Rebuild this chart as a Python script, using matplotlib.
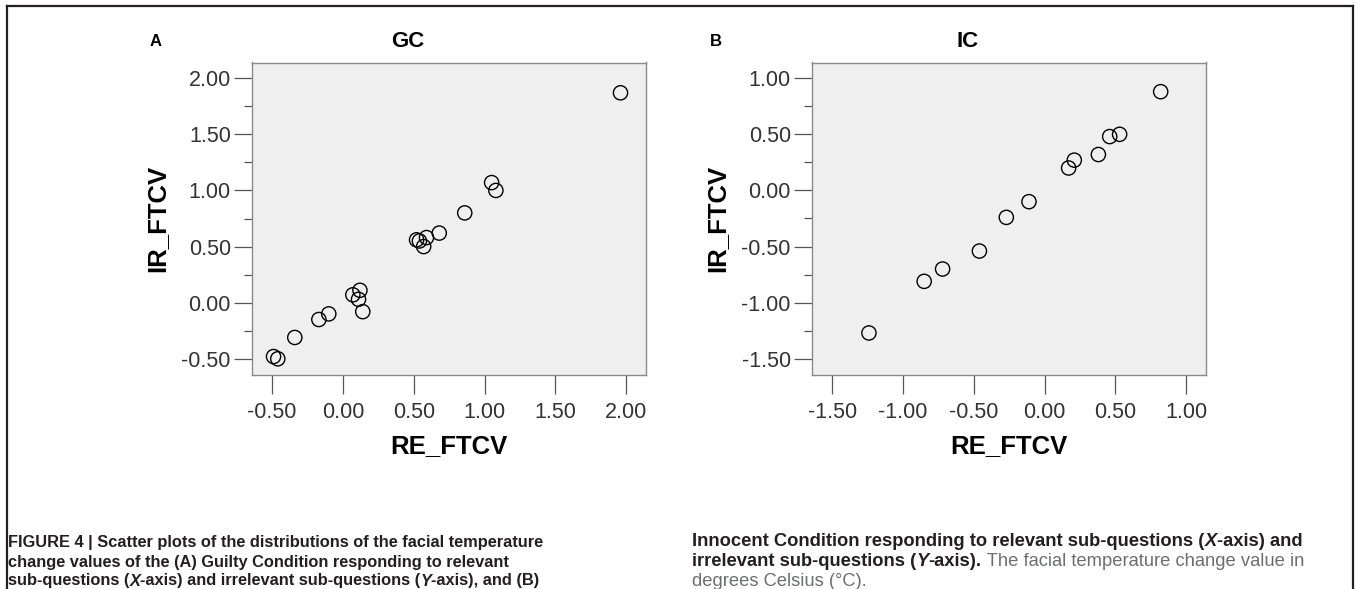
import matplotlib
matplotlib.use("Agg")
import matplotlib.pyplot as plt
from matplotlib import font_manager
from matplotlib.lines import Line2D
from matplotlib.ticker import FuncFormatter, MultipleLocator

plt.rcParams["font.family"] = ["Liberation Sans", "DejaVu Sans"]
plt.rcParams["axes.unicode_minus"] = False

# GC panel: relevant (x) vs irrelevant (y) facial temperature change values
gc_re = [-0.49, -0.46, -0.34, -0.17, -0.10, 0.07, 0.11, 0.12, 0.14,
         0.52, 0.54, 0.57, 0.59, 0.68, 0.86, 1.05, 1.08, 1.96]
gc_ir = [-0.48, -0.50, -0.31, -0.15, -0.10, 0.07, 0.03, 0.11, -0.08,
         0.56, 0.55, 0.50, 0.58, 0.62, 0.80, 1.07, 1.00, 1.87]

# IC panel
ic_re = [-1.24, -0.85, -0.72, -0.46, -0.27, -0.11, 0.17, 0.21, 0.38, 0.46, 0.53, 0.82]
ic_ir = [-1.27, -0.81, -0.70, -0.54, -0.24, -0.10, 0.20, 0.27, 0.32, 0.48, 0.50, 0.88]

gc_ticks = [-0.5, 0.0, 0.5, 1.0, 1.5, 2.0]
ic_ticks = [-1.5, -1.0, -0.5, 0.0, 0.5, 1.0]

W, H = 1356, 589
fig = plt.figure(figsize=(W / 100, H / 100), dpi=100)

DARK = "#231f20"
GREY = "#6d6e71"


def px(x, y):
    # pixel position (from top-left) to figure fraction
    return x / W, 1 - y / H


def panel(left_px, xs, ys, ticks, title, letter):
    ax = fig.add_axes([left_px / W, (H - 374.5) / H, 393.7 / W, 312 / H])
    ax.set_facecolor("#efefef")
    ax.scatter(xs, ys, s=105, facecolors="none", edgecolors="black", linewidths=1.0, zorder=3)
    lo, hi = ticks[0] - 0.14, ticks[-1] + 0.14
    ax.set_xlim(lo, hi)
    ax.set_ylim(lo, hi)
    ax.set_xticks(ticks)
    ax.set_yticks(ticks)
    ax.yaxis.set_minor_locator(MultipleLocator(0.25))
    fmt = FuncFormatter(lambda v, p: f"{v:.2f}")
    ax.xaxis.set_major_formatter(fmt)
    ax.yaxis.set_major_formatter(fmt)
    for s in ax.spines.values():
        s.set_color("#8a8a8a")
        s.set_linewidth(1.0)
    ax.tick_params(axis="x", which="major", direction="out", length=14, width=0.9,
                   color="#555555", labelcolor="#333333", labelsize=15.5, pad=6)
    ax.tick_params(axis="y", which="major", direction="out", length=13, width=0.9,
                   color="#555555", labelcolor="#333333", labelsize=15.5, pad=2.5)
    ax.tick_params(axis="y", which="minor", direction="out", length=6, width=0.9,
                   color="#555555")
    ax.set_xlabel("RE_FTCV", fontsize=18.5, fontweight="bold", va="center")
    ax.xaxis.set_label_coords(0.5, -(446 - 374.5) / 312)
    ax.set_ylabel("IR_FTCV", fontsize=18.5, fontweight="bold", va="center")
    ax.yaxis.set_label_coords(-(252.3 - 157) / 393.7, 0.5)
    ax.text(0.395, 1 + (62.5 - 41.7) / 312, title, transform=ax.transAxes,
            ha="center", va="center", fontsize=16, fontweight="bold")
    fx, fy = px(left_px - 96.5, 41.7)
    fig.text(fx, fy, letter, ha="center", va="center", fontsize=12, fontweight="bold")
    return ax


panel(252.3, gc_re, gc_ir, gc_ticks, "GC", "A")
panel(812.3, ic_re, ic_ir, ic_ticks, "IC", "B")

# frame round the figure
for xs, ys in [([7, 7], [6, H]), ([1352.5, 1352.5], [6, H]), ([7, 1352.5], [6, 6])]:
    fig.add_artist(Line2D([x / W for x in xs], [1 - y / H for y in ys],
                          color=DARK, linewidth=1.6))


# caption, written piece by piece so that bold / italic / regular can mix
def has_font(name):
    try:
        font_manager.findfont(font_manager.FontProperties(family=name),
                              fallback_to_default=False)
        return True
    except ValueError:
        return False


renderer = fig.canvas.get_renderer()
if has_font("Liberation Sans Narrow"):
    left_fam, left_size = ["Liberation Sans Narrow", "DejaVu Sans"], 13.8
else:
    left_fam, left_size = ["Liberation Sans", "DejaVu Sans"], 11.8
right_fam, right_size = ["Liberation Sans", "DejaVu Sans"], 13.2


def caption_line(x0, y, parts, family, size):
    x = x0
    for text, weight, style, color in parts:
        fx, fy = px(x, y)
        t = fig.text(fx, fy, text, fontsize=size, fontweight=weight, fontstyle=style,
                     color=color, family=family, ha="left", va="center")
        x += t.get_window_extent(renderer).width


B = ("bold", "normal", DARK)
BI = ("bold", "italic", DARK)
R = ("normal", "normal", GREY)

left = dict(family=left_fam, size=left_size)
right = dict(family=right_fam, size=right_size)

caption_line(8, 542, [("FIGURE 4 | Scatter plots of the distributions of the facial temperature",) + B], **left)
caption_line(8, 562, [("change values of the (A) Guilty Condition responding to relevant",) + B], **left)
caption_line(8, 581, [("sub-questions (",) + B, ("X",) + BI,
                      ("-axis) and irrelevant sub-questions (",) + B, ("Y",) + BI,
                      ("-axis), and (B)",) + B], **left)
caption_line(692, 542, [("Innocent Condition responding to relevant sub-questions (",) + B,
                        ("X",) + BI, ("-axis) and",) + B], **right)
caption_line(692, 562, [("irrelevant sub-questions (",) + B, ("Y",) + BI, ("-axis).",) + B,
                        (" The facial temperature change value in",) + R], **right)
caption_line(692, 581, [("degrees Celsius (°C).",) + R], **right)

fig.savefig("out.png", dpi=100)
